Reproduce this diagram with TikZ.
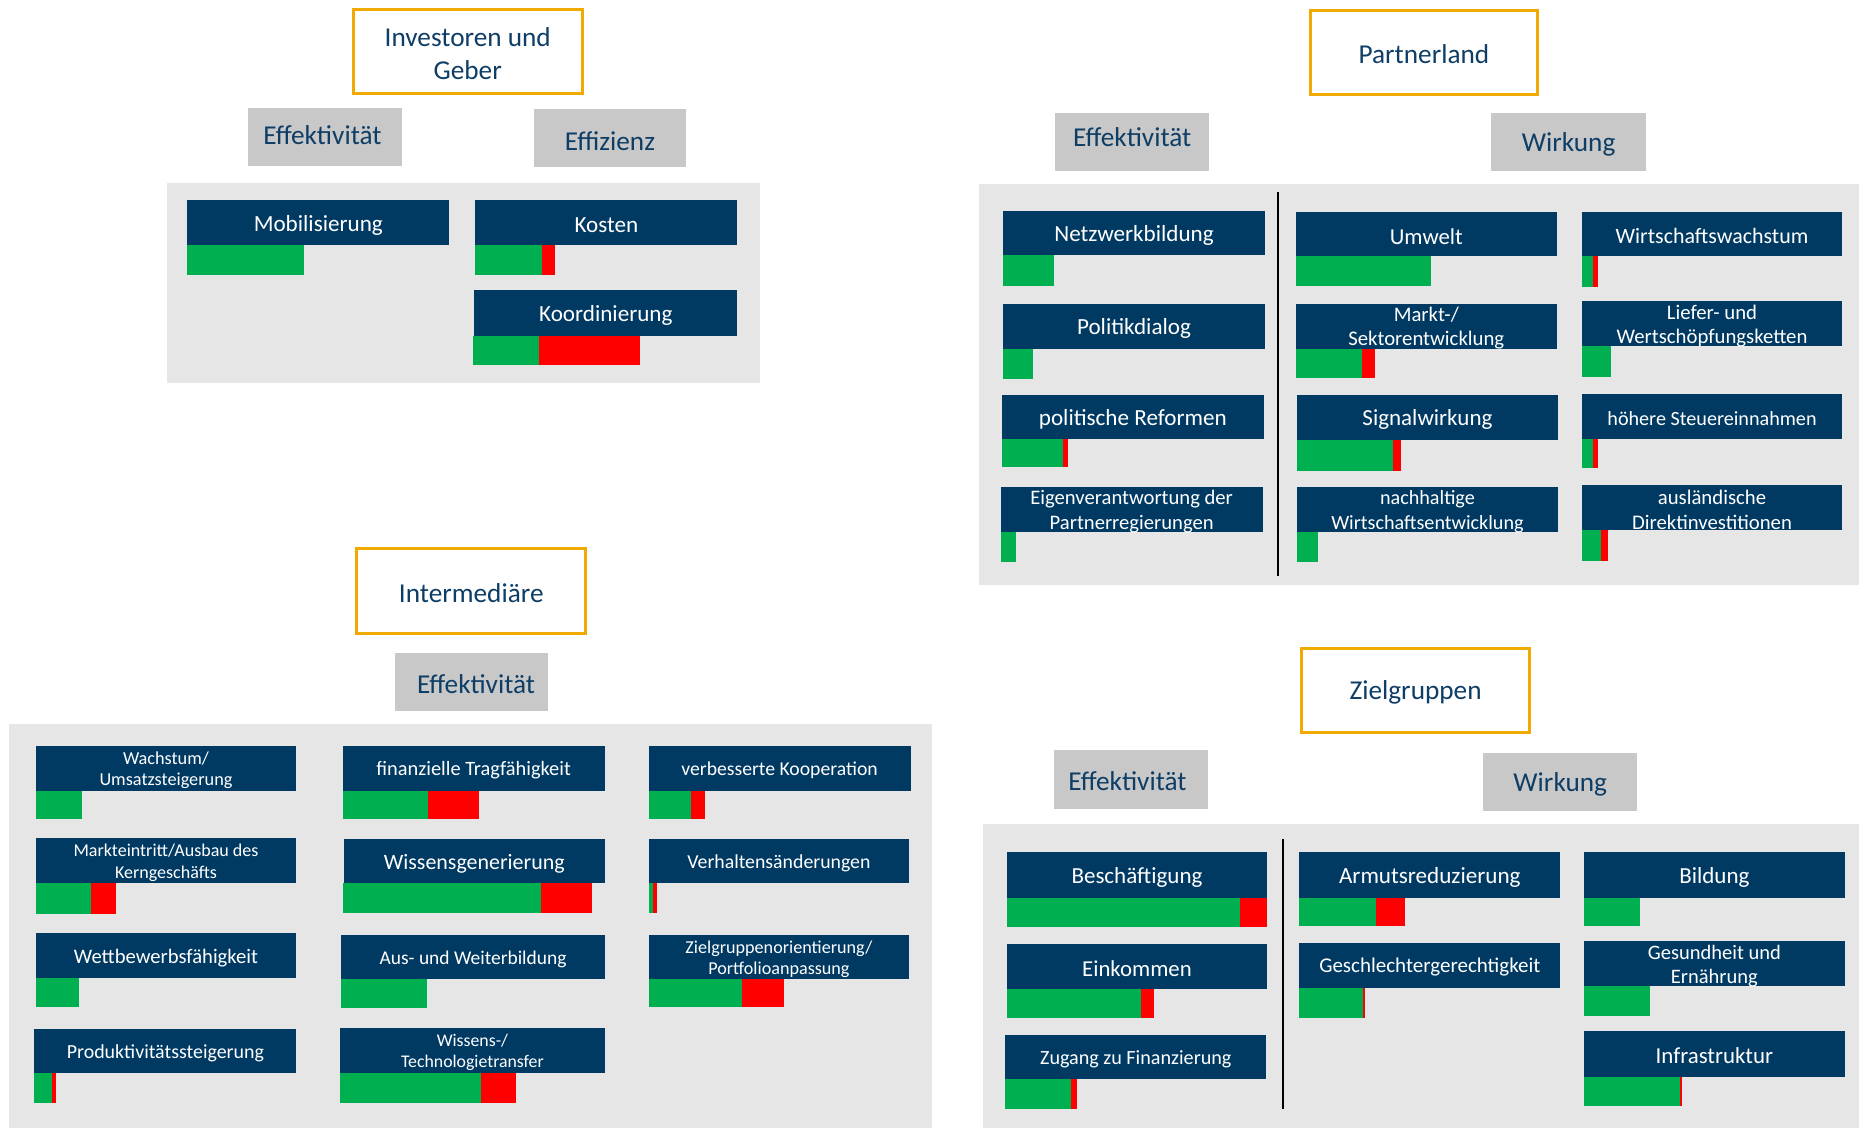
\documentclass[tikz,border=0pt]{standalone}
\usepackage{fontspec}
\setmainfont{Carlito}
\definecolor{navy}{RGB}{0,58,99}
\definecolor{lbltext}{RGB}{14,62,102}
\definecolor{orangeb}{RGB}{240,170,0}
\definecolor{gbarc}{RGB}{0,176,80}
\definecolor{rbarc}{RGB}{255,0,0}
\definecolor{panelgray}{RGB}{230,230,230}
\definecolor{lblgray}{RGB}{200,200,200}
\tikzset{
  headbox/.style={rectangle, fill=navy, inner sep=0pt, outer sep=0pt},
  htext/.style={text=white, align=center, inner sep=0pt, yshift=-1.8pt},
  titlebox/.style={rectangle, draw=orangeb, line width=2.5pt, fill=white, inner sep=0pt},
  titletxt/.style={text=lbltext, align=center, inner sep=0pt, yshift=-1.5pt, font=\fontsize{23}{28}\selectfont},
  lblbox/.style={rectangle, fill=lblgray, inner sep=0pt, outer sep=0pt},
  lbltxt/.style={text=lbltext, inner sep=0pt, yshift=-1.8pt, font=\fontsize{23}{28}\selectfont},
  panel/.style={fill=panelgray},
  sepline/.style={draw=black, line width=2pt},
}
% name, x1, y1, x2, y2, fontsize, skip, text
\newcommand{\hd}[8]{%
  \node[headbox, minimum width={(#4-#2)*1pt}, minimum height={(#5-#3)*1pt}] (#1) at ({(#2+#4)/2},{(#3+#5)/2}) {};
  \node[htext, font={\fontsize{#6}{#7}\selectfont}] (#1-t) at (#1.center) {#8};}
% green x1 x2, y1 y2
\newcommand{\gb}[4]{\fill[gbarc] (#1,#3) rectangle (#2,#4);}
\newcommand{\rb}[4]{\fill[rbarc] (#1,#3) rectangle (#2,#4);}
% name, x1,y1,x2,y2, textx, texty, text
\newcommand{\lb}[8]{%
  \node[lblbox, minimum width={(#4-#2)*1pt}, minimum height={(#5-#3)*1pt}] (#1) at ({(#2+#4)/2},{(#3+#5)/2}) {};
  \node[lbltxt] (#1-t) at (#6,#7) {#8};}
% name, x1,y1,x2,y2, text
\newcommand{\tb}[6]{%
  \node[titlebox, minimum width={(#4-#2)*1pt}, minimum height={(#5-#3)*1pt}] (#1) at ({(#2+#4)/2},{(#3+#5)/2}) {};
  \node[titletxt] (#1-t) at (#1.center) {#6};}
\begin{document}
\begin{tikzpicture}[x=1pt,y=-1pt]
\useasboundingbox (0,0) rectangle (1568,951);
\fill[white] (0,0) rectangle (1568,951);

% ===== Investoren und Geber =====
\tb{inv}{298}{8}{491}{79}{Investoren und\\Geber}
\lb{inveff}{209}{91}{339}{140}{272}{112}{Effektivität}
\lb{invefz}{450}{92}{579}{141}{514.5}{117}{Effizienz}
\fill[panel] (141,154) rectangle (641,323);
\hd{mob}{158}{169}{379}{207}{19.5}{23}{Mobilisierung}
\gb{158}{256}{207}{232}
\hd{kos}{401}{169}{622}{207}{19.5}{23}{Kosten}
\gb{401}{457}{207}{232}\rb{457}{468}{207}{232}
\hd{koo}{400}{245}{622}{283}{19.5}{23}{Koordinierung}
\gb{399}{455}{283}{308}\rb{455}{540}{283}{308}

% ===== Partnerland =====
\tb{par}{1105}{9}{1297}{80}{Partnerland}
\lb{pareff}{890}{95}{1020}{144}{955}{114}{Effektivität}
\lb{parwir}{1258}{95}{1388}{144}{1323}{120}{Wirkung}
\fill[panel] (826,155) rectangle (1568,493);
\coordinate (ps1) at (1078,162);
\coordinate (ps2) at (1078,486);
\draw[sepline] (ps1) -- (ps2);
\hd{net}{846}{178}{1067}{215}{19.5}{23}{Netzwerkbildung}
\gb{846}{889}{215}{241}
\hd{pol}{846}{256}{1067}{294}{19.5}{23}{Politikdialog}
\gb{846}{871}{294}{320}
\hd{ref}{845}{333}{1066}{370}{19.5}{23}{politische Reformen}
\gb{845}{897}{370}{394}\rb{897}{901}{370}{394}
\hd{eig}{844}{411}{1065}{449}{17.4}{21}{Eigenverantwortung der\\Partnerregierungen}
\gb{844}{857}{449}{474}
\hd{umw}{1093}{179}{1313}{216}{19.2}{23}{Umwelt}
\gb{1093}{1207}{216}{241}
\hd{mar}{1093}{256}{1313}{294}{17.5}{20}{Markt-/\\Sektorentwicklung}
\gb{1093}{1149}{294}{319}\rb{1149}{1160}{294}{319}
\hd{sig}{1094}{333}{1314}{371}{19.4}{23}{Signalwirkung}
\gb{1094}{1175}{371}{397}\rb{1175}{1182}{371}{397}
\hd{nac}{1094}{411}{1314}{449}{17}{21}{nachhaltige\\Wirtschaftsentwicklung}
\gb{1094}{1112}{449}{474}
\hd{wir}{1334}{179}{1554}{216}{18.5}{23}{Wirtschaftswachstum}
\gb{1334}{1344}{216}{242}\rb{1344}{1348}{216}{242}
\hd{lie}{1334}{254}{1554}{292}{17.5}{20}{Liefer- und\\Wertschöpfungsketten}
\gb{1334}{1359}{292}{318}
\hd{ste}{1334}{332}{1554}{370}{17}{21}{höhere Steuereinnahmen}
\gb{1334}{1344}{370}{395}\rb{1344}{1348}{370}{395}
\hd{aus}{1334}{409}{1554}{447}{17.5}{21}{ausländische\\Direktinvestitionen}
\gb{1334}{1350}{447}{473}\rb{1350}{1356}{447}{473}

% ===== Intermediäre =====
\tb{int}{301}{463}{494}{534}{Intermediäre}
\lb{inteff}{333}{551}{462}{600}{401.5}{575}{Effektivität}
\fill[panel] (8,611) rectangle (786,951);
\hd{wac}{30}{629}{250}{667}{15.4}{18}{Wachstum/\\Umsatzsteigerung}
\gb{30}{69}{667}{691}
\hd{mkt}{30}{707}{250}{745}{15.2}{18}{Markteintritt/Ausbau des\\Kerngeschäfts}
\gb{30}{77}{745}{771}\rb{77}{98}{745}{771}
\hd{wet}{30}{787}{250}{825}{17.4}{21}{Wettbewerbsfähigkeit}
\gb{30}{67}{825}{849}
\hd{pro}{29}{868}{250}{905}{16.8}{21}{Produktivitätssteigerung}
\gb{29}{44}{905}{930}\rb{44}{47}{905}{930}
\hd{fin}{289}{629}{510}{667}{17.2}{21}{finanzielle Tragfähigkeit}
\gb{289}{361}{667}{691}\rb{361}{404}{667}{691}
\hd{wis}{290}{708}{510}{745}{18.5}{22}{Wissensgenerierung}
\gb{289}{456}{745}{770}\rb{456}{499}{745}{770}
\hd{awb}{288}{789}{510}{826}{16.4}{20}{Aus- und Weiterbildung}
\gb{288}{360}{826}{850}
\hd{wtt}{287}{867}{510}{905}{15}{18}{Wissens-/\\Technologietransfer}
\gb{287}{406}{905}{930}\rb{406}{435}{905}{930}
\hd{kop}{547}{629}{768}{667}{16.6}{20}{verbesserte Kooperation}
\gb{547}{583}{667}{691}\rb{583}{595}{667}{691}
\hd{ver}{547}{708}{767}{745}{16.7}{20}{Verhaltensänderungen}
\gb{547}{551}{745}{770}\rb{551}{554}{745}{770}
\hd{zgo}{547}{789}{767}{826}{15.3}{18}{Zielgruppenorientierung/\\Portfolioanpassung}
\gb{547}{626}{826}{849}\rb{626}{661}{826}{849}

% ===== Zielgruppen =====
\tb{zie}{1098}{547}{1290}{618}{Zielgruppen}
\lb{zieeff}{889}{633}{1019}{682}{951}{657}{Effektivität}
\lb{ziewir}{1251}{635}{1381}{684}{1316}{660}{Wirkung}
\fill[panel] (829,695) rectangle (1568,951);
\coordinate (zs1) at (1082,708);
\coordinate (zs2) at (1082,935);
\draw[sepline] (zs1) -- (zs2);
\hd{bes}{849}{719}{1069}{757}{19.4}{23}{Beschäftigung}
\gb{849}{1046}{757}{782}\rb{1046}{1069}{757}{782}
\hd{ein}{849}{796}{1069}{834}{19.2}{23}{Einkommen}
\gb{849}{962}{834}{859}\rb{962}{973}{834}{859}
\hd{zug}{848}{873}{1068}{910}{17}{21}{Zugang zu Finanzierung}
\gb{848}{903}{910}{935}\rb{903}{908}{910}{935}
\hd{arm}{1096}{719}{1316}{757}{19.5}{23}{Armutsreduzierung}
\gb{1096}{1161}{757}{781}\rb{1161}{1185}{757}{781}
\hd{ges}{1096}{795}{1316}{833}{17.7}{21}{Geschlechtergerechtigkeit}
\gb{1096}{1150}{833}{859}\rb{1150}{1151.5}{833}{859}
\hd{bil}{1336}{719}{1556}{757}{19.4}{23}{Bildung}
\gb{1336}{1383}{757}{781}
\hd{gee}{1336}{794}{1556}{832}{17.3}{20}{Gesundheit und\\Ernährung}
\gb{1336}{1392}{832}{857}
\hd{inf}{1336}{870}{1556}{908}{19.3}{23}{Infrastruktur}
\gb{1336}{1417}{908}{933}\rb{1417}{1418.5}{908}{933}
\end{tikzpicture}
\end{document}
